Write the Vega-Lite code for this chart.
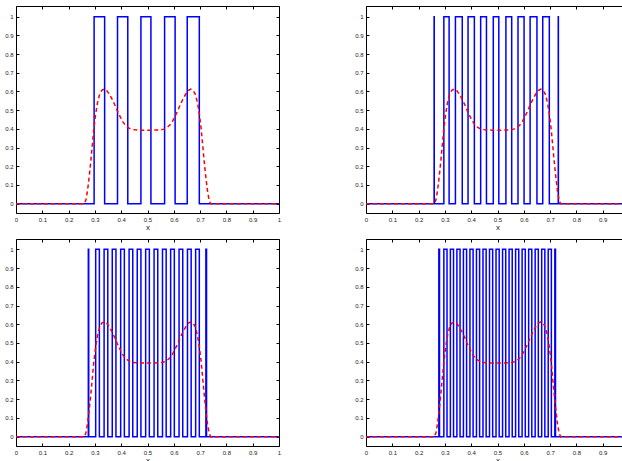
{
"$schema": "https://vega.github.io/schema/vega-lite/v6.json",
"autosize": {"type": "pad"},
"padding": {"left": 4, "top": 5, "right": 0, "bottom": 0},
"bounds": "flush",
"spacing": {"row": 26, "column": 87},
"columns": 2,
"config": {
  "view": {"stroke": "black", "strokeWidth": 1},
  "axis": {"labelFont": "Liberation Sans", "labelFontSize": 6, "labelColor": "#222", "tickColor": "black", "tickSize": -3, "labelPadding": 6, "domain": false, "grid": false, "labelFlush": false, "labelOverlap": false, "titleFont": "Liberation Sans", "titleFontSize": 8, "titleFontWeight": "normal", "titleColor": "#222", "titlePadding": 1}
},
"datasets": {
"red": [
{"x":0,"y":0},{"x":0.26,"y":0},{"x":0.266,"y":0.02},{"x":0.272,"y":0.07},{"x":0.278,"y":0.14},{"x":0.284,"y":0.22},{"x":0.29,"y":0.31},{"x":0.296,"y":0.4},{"x":0.303,"y":0.48},{"x":0.31,"y":0.54},{"x":0.318,"y":0.585},{"x":0.327,"y":0.607},{"x":0.336,"y":0.613},{"x":0.345,"y":0.605},{"x":0.355,"y":0.585},{"x":0.365,"y":0.56},{"x":0.375,"y":0.53},{"x":0.385,"y":0.497},{"x":0.395,"y":0.468},{"x":0.405,"y":0.44},{"x":0.415,"y":0.42},{"x":0.425,"y":0.408},{"x":0.435,"y":0.4},{"x":0.445,"y":0.396},{"x":0.46,"y":0.394},{"x":0.48,"y":0.393},{"x":0.5,"y":0.393},
{"x":0.52,"y":0.393},{"x":0.54,"y":0.394},{"x":0.555,"y":0.396},{"x":0.565,"y":0.4},{"x":0.575,"y":0.408},{"x":0.585,"y":0.42},{"x":0.595,"y":0.44},{"x":0.605,"y":0.468},{"x":0.615,"y":0.497},{"x":0.625,"y":0.53},{"x":0.635,"y":0.56},{"x":0.645,"y":0.585},{"x":0.655,"y":0.605},{"x":0.664,"y":0.613},{"x":0.673,"y":0.607},{"x":0.682,"y":0.585},{"x":0.69,"y":0.54},{"x":0.697,"y":0.48},{"x":0.704,"y":0.4},{"x":0.71,"y":0.31},{"x":0.716,"y":0.22},{"x":0.722,"y":0.14},{"x":0.728,"y":0.07},{"x":0.734,"y":0.02},{"x":0.74,"y":0},{"x":1,"y":0}
],
"b1": [
{"x":0,"y":0},
{"x":0.297,"y":0},{"x":0.297,"y":1},{"x":0.337,"y":1},{"x":0.337,"y":0},
{"x":0.386,"y":0},{"x":0.386,"y":1},{"x":0.425,"y":1},{"x":0.425,"y":0},
{"x":0.475,"y":0},{"x":0.475,"y":1},{"x":0.513,"y":1},{"x":0.513,"y":0},
{"x":0.565,"y":0},{"x":0.565,"y":1},{"x":0.605,"y":1},{"x":0.605,"y":0},
{"x":0.651,"y":0},{"x":0.651,"y":1},{"x":0.697,"y":1},{"x":0.697,"y":0},
{"x":1,"y":0}
],
"b2": [
{"x":0,"y":0},
{"x":0.259,"y":0},{"x":0.259,"y":1},{"x":0.2595,"y":1},{"x":0.2595,"y":0},
{"x":0.296,"y":0},{"x":0.296,"y":1},{"x":0.316,"y":1},{"x":0.316,"y":0},
{"x":0.340,"y":0},{"x":0.340,"y":1},{"x":0.366,"y":1},{"x":0.366,"y":0},
{"x":0.388,"y":0},{"x":0.388,"y":1},{"x":0.412,"y":1},{"x":0.412,"y":0},
{"x":0.436,"y":0},{"x":0.436,"y":1},{"x":0.458,"y":1},{"x":0.458,"y":0},
{"x":0.484,"y":0},{"x":0.484,"y":1},{"x":0.505,"y":1},{"x":0.505,"y":0},
{"x":0.532,"y":0},{"x":0.532,"y":1},{"x":0.554,"y":1},{"x":0.554,"y":0},
{"x":0.578,"y":0},{"x":0.578,"y":1},{"x":0.601,"y":1},{"x":0.601,"y":0},
{"x":0.624,"y":0},{"x":0.624,"y":1},{"x":0.650,"y":1},{"x":0.650,"y":0},
{"x":0.672,"y":0},{"x":0.672,"y":1},{"x":0.697,"y":1},{"x":0.697,"y":0},
{"x":0.731,"y":0},{"x":0.731,"y":1},{"x":0.7315,"y":1},{"x":0.7315,"y":0},
{"x":1,"y":0}
],
"b3": [
{"x":0,"y":0},
{"x":0.275,"y":0},{"x":0.275,"y":1},{"x":0.2765,"y":1},{"x":0.2765,"y":0},
{"x":0.303,"y":0},{"x":0.303,"y":1},{"x":0.317,"y":1},{"x":0.317,"y":0},
{"x":0.335,"y":0},{"x":0.335,"y":1},{"x":0.349,"y":1},{"x":0.349,"y":0},
{"x":0.366,"y":0},{"x":0.366,"y":1},{"x":0.380,"y":1},{"x":0.380,"y":0},
{"x":0.398,"y":0},{"x":0.398,"y":1},{"x":0.412,"y":1},{"x":0.412,"y":0},
{"x":0.430,"y":0},{"x":0.430,"y":1},{"x":0.444,"y":1},{"x":0.444,"y":0},
{"x":0.461,"y":0},{"x":0.461,"y":1},{"x":0.475,"y":1},{"x":0.475,"y":0},
{"x":0.493,"y":0},{"x":0.493,"y":1},{"x":0.507,"y":1},{"x":0.507,"y":0},
{"x":0.525,"y":0},{"x":0.525,"y":1},{"x":0.539,"y":1},{"x":0.539,"y":0},
{"x":0.557,"y":0},{"x":0.557,"y":1},{"x":0.571,"y":1},{"x":0.571,"y":0},
{"x":0.588,"y":0},{"x":0.588,"y":1},{"x":0.602,"y":1},{"x":0.602,"y":0},
{"x":0.620,"y":0},{"x":0.620,"y":1},{"x":0.634,"y":1},{"x":0.634,"y":0},
{"x":0.652,"y":0},{"x":0.652,"y":1},{"x":0.666,"y":1},{"x":0.666,"y":0},
{"x":0.683,"y":0},{"x":0.683,"y":1},{"x":0.697,"y":1},{"x":0.697,"y":0},
{"x":0.722,"y":0},{"x":0.722,"y":1},{"x":0.7245,"y":1},{"x":0.7245,"y":0},
{"x":1,"y":0}
],
"b4": [
{"x":0,"y":0},
{"x":0.277,"y":0},{"x":0.277,"y":1},{"x":0.2795,"y":1},{"x":0.2795,"y":0},
{"x":0.296,"y":0},{"x":0.296,"y":1},{"x":0.308,"y":1},{"x":0.308,"y":0},
{"x":0.3208,"y":0},{"x":0.3208,"y":1},{"x":0.3328,"y":1},{"x":0.3328,"y":0},
{"x":0.3456,"y":0},{"x":0.3456,"y":1},{"x":0.3576,"y":1},{"x":0.3576,"y":0},
{"x":0.3704,"y":0},{"x":0.3704,"y":1},{"x":0.3824,"y":1},{"x":0.3824,"y":0},
{"x":0.3952,"y":0},{"x":0.3952,"y":1},{"x":0.4072,"y":1},{"x":0.4072,"y":0},
{"x":0.42,"y":0},{"x":0.42,"y":1},{"x":0.432,"y":1},{"x":0.432,"y":0},
{"x":0.4448,"y":0},{"x":0.4448,"y":1},{"x":0.4568,"y":1},{"x":0.4568,"y":0},
{"x":0.4696,"y":0},{"x":0.4696,"y":1},{"x":0.4816,"y":1},{"x":0.4816,"y":0},
{"x":0.4944,"y":0},{"x":0.4944,"y":1},{"x":0.5064,"y":1},{"x":0.5064,"y":0},
{"x":0.5192,"y":0},{"x":0.5192,"y":1},{"x":0.5312,"y":1},{"x":0.5312,"y":0},
{"x":0.544,"y":0},{"x":0.544,"y":1},{"x":0.556,"y":1},{"x":0.556,"y":0},
{"x":0.5688,"y":0},{"x":0.5688,"y":1},{"x":0.5808,"y":1},{"x":0.5808,"y":0},
{"x":0.5936,"y":0},{"x":0.5936,"y":1},{"x":0.6056,"y":1},{"x":0.6056,"y":0},
{"x":0.6184,"y":0},{"x":0.6184,"y":1},{"x":0.6304,"y":1},{"x":0.6304,"y":0},
{"x":0.6432,"y":0},{"x":0.6432,"y":1},{"x":0.6552,"y":1},{"x":0.6552,"y":0},
{"x":0.668,"y":0},{"x":0.668,"y":1},{"x":0.68,"y":1},{"x":0.68,"y":0},
{"x":0.6928,"y":0},{"x":0.6928,"y":1},{"x":0.7048,"y":1},{"x":0.7048,"y":0},
{"x":0.718,"y":0},{"x":0.718,"y":1},{"x":0.7205,"y":1},{"x":0.7205,"y":0},
{"x":1,"y":0}
]
},
"concat": [
{"width": 263, "height": 207, "layer": [
 {"data": {"name": "b1"}, "mark": {"type": "line", "color": "#0000ff", "strokeWidth": 1.5},
  "encoding": {"x": {"field": "x", "type": "quantitative", "scale": {"domain": [0, 1], "nice": false, "zero": false}, "axis": {"orient": "top", "labels": false, "title": null, "values": [0,0.1,0.2,0.3,0.4,0.5,0.6,0.7,0.8,0.9,1]}},
   "y": {"field": "y", "type": "quantitative", "scale": {"domain": [-0.05, 1.057], "nice": false, "zero": false}, "axis": {"orient": "right", "labels": false, "title": null, "values": [0,0.1,0.2,0.3,0.4,0.5,0.6,0.7,0.8,0.9,1]}},
   "order": {"value": null}}},
 {"data": {"name": "red"}, "mark": {"type": "line", "color": "#ff0000", "strokeWidth": 1.5, "strokeDash": [4, 3]},
  "encoding": {"x": {"field": "x", "type": "quantitative", "scale": {"domain": [0, 1], "nice": false, "zero": false}, "axis": {"orient": "bottom", "title": "x", "format": "~g", "values": [0,0.1,0.2,0.3,0.4,0.5,0.6,0.7,0.8,0.9,1]}},
   "y": {"field": "y", "type": "quantitative", "scale": {"domain": [-0.05, 1.057], "nice": false, "zero": false}, "axis": {"orient": "left", "title": null, "format": "~g", "values": [0,0.1,0.2,0.3,0.4,0.5,0.6,0.7,0.8,0.9,1]}},
   "order": {"value": null}}}
]},
{"width": 263, "height": 207, "layer": [
 {"data": {"name": "b2"}, "mark": {"type": "line", "color": "#0000ff", "strokeWidth": 1.5},
  "encoding": {"x": {"field": "x", "type": "quantitative", "scale": {"domain": [0, 1], "nice": false, "zero": false}, "axis": {"orient": "top", "labels": false, "title": null, "values": [0,0.1,0.2,0.3,0.4,0.5,0.6,0.7,0.8,0.9,1]}},
   "y": {"field": "y", "type": "quantitative", "scale": {"domain": [-0.05, 1.057], "nice": false, "zero": false}, "axis": {"orient": "right", "labels": false, "title": null, "values": [0,0.1,0.2,0.3,0.4,0.5,0.6,0.7,0.8,0.9,1]}},
   "order": {"value": null}}},
 {"data": {"name": "red"}, "mark": {"type": "line", "color": "#ff0000", "strokeWidth": 1.5, "strokeDash": [4, 3]},
  "encoding": {"x": {"field": "x", "type": "quantitative", "scale": {"domain": [0, 1], "nice": false, "zero": false}, "axis": {"orient": "bottom", "title": "x", "format": "~g", "values": [0,0.1,0.2,0.3,0.4,0.5,0.6,0.7,0.8,0.9,1]}},
   "y": {"field": "y", "type": "quantitative", "scale": {"domain": [-0.05, 1.057], "nice": false, "zero": false}, "axis": {"orient": "left", "title": null, "format": "~g", "values": [0,0.1,0.2,0.3,0.4,0.5,0.6,0.7,0.8,0.9,1]}},
   "order": {"value": null}}}
]},
{"width": 263, "height": 207, "layer": [
 {"data": {"name": "b3"}, "mark": {"type": "line", "color": "#0000ff", "strokeWidth": 1.5},
  "encoding": {"x": {"field": "x", "type": "quantitative", "scale": {"domain": [0, 1], "nice": false, "zero": false}, "axis": {"orient": "top", "labels": false, "title": null, "values": [0,0.1,0.2,0.3,0.4,0.5,0.6,0.7,0.8,0.9,1]}},
   "y": {"field": "y", "type": "quantitative", "scale": {"domain": [-0.05, 1.055], "nice": false, "zero": false}, "axis": {"orient": "right", "labels": false, "title": null, "values": [0,0.1,0.2,0.3,0.4,0.5,0.6,0.7,0.8,0.9,1]}},
   "order": {"value": null}}},
 {"data": {"name": "red"}, "mark": {"type": "line", "color": "#ff0000", "strokeWidth": 1.5, "strokeDash": [4, 3]},
  "encoding": {"x": {"field": "x", "type": "quantitative", "scale": {"domain": [0, 1], "nice": false, "zero": false}, "axis": {"orient": "bottom", "title": "x", "format": "~g", "values": [0,0.1,0.2,0.3,0.4,0.5,0.6,0.7,0.8,0.9,1]}},
   "y": {"field": "y", "type": "quantitative", "scale": {"domain": [-0.05, 1.055], "nice": false, "zero": false}, "axis": {"orient": "left", "title": null, "format": "~g", "values": [0,0.1,0.2,0.3,0.4,0.5,0.6,0.7,0.8,0.9,1]}},
   "order": {"value": null}}}
]},
{"width": 263, "height": 207, "layer": [
 {"data": {"name": "b4"}, "mark": {"type": "line", "color": "#0000ff", "strokeWidth": 1.5},
  "encoding": {"x": {"field": "x", "type": "quantitative", "scale": {"domain": [0, 1], "nice": false, "zero": false}, "axis": {"orient": "top", "labels": false, "title": null, "values": [0,0.1,0.2,0.3,0.4,0.5,0.6,0.7,0.8,0.9,1]}},
   "y": {"field": "y", "type": "quantitative", "scale": {"domain": [-0.05, 1.055], "nice": false, "zero": false}, "axis": {"orient": "right", "labels": false, "title": null, "values": [0,0.1,0.2,0.3,0.4,0.5,0.6,0.7,0.8,0.9,1]}},
   "order": {"value": null}}},
 {"data": {"name": "red"}, "mark": {"type": "line", "color": "#ff0000", "strokeWidth": 1.5, "strokeDash": [4, 3]},
  "encoding": {"x": {"field": "x", "type": "quantitative", "scale": {"domain": [0, 1], "nice": false, "zero": false}, "axis": {"orient": "bottom", "title": "x", "format": "~g", "values": [0,0.1,0.2,0.3,0.4,0.5,0.6,0.7,0.8,0.9,1]}},
   "y": {"field": "y", "type": "quantitative", "scale": {"domain": [-0.05, 1.055], "nice": false, "zero": false}, "axis": {"orient": "left", "title": null, "format": "~g", "values": [0,0.1,0.2,0.3,0.4,0.5,0.6,0.7,0.8,0.9,1]}},
   "order": {"value": null}}}
]}
]
}
